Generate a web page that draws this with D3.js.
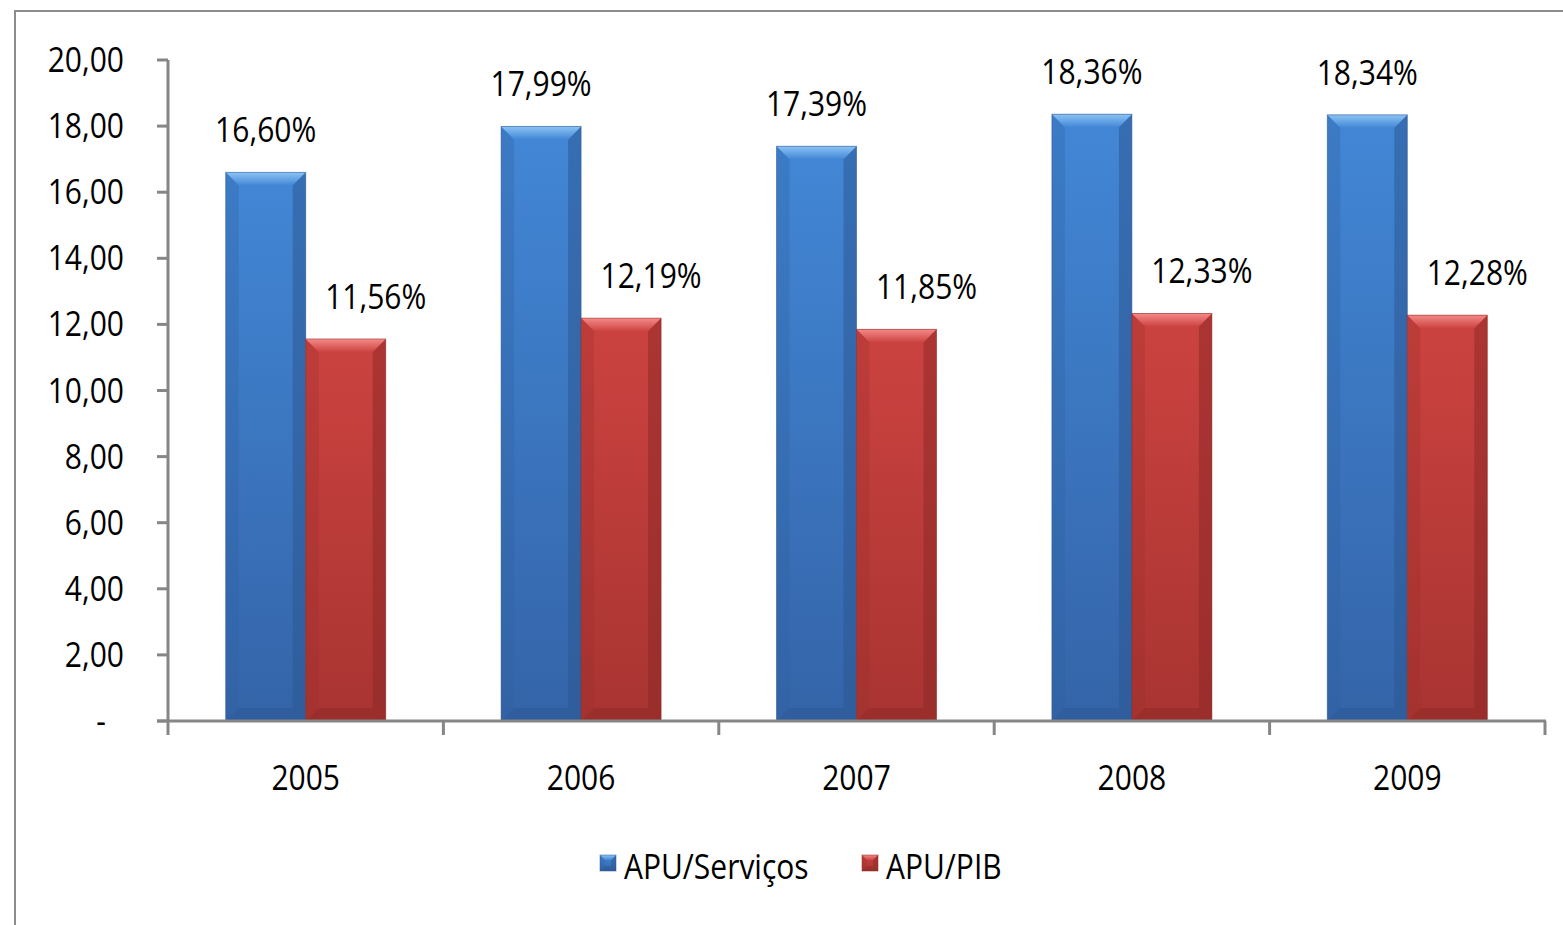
<!DOCTYPE html>
<meta charset="utf-8">
<title>APU/Serviços e APU/PIB</title>
<style>
    body {
        margin: 0;
        width: 1563px;
        height: 925px;
        overflow: hidden;
        background: #fff;
    }

    svg {
        display: block;
        font-family: "Open Sans", sans-serif;
    }

    text {
        fill: #000;
    }
</style>

<body>
    <svg width="1563" height="925"></svg>

    <script src="https://d3js.org/d3.v7.min.js"></script>
    <script>
        const years = ["2005", "2006", "2007", "2008", "2009"];
        const series = ["APU/Serviços", "APU/PIB"];
        const apuServicos = [16.60, 17.99, 17.39, 18.36, 18.34];
        const apuPib = [11.56, 12.19, 11.85, 12.33, 12.28];
        const yTicks = [0, 2, 4, 6, 8, 10, 12, 14, 16, 18, 20];

        const palette = {
            "APU/Serviços": { top: "#8cc3f4", mid: "#4287d6", low: "#3464a8", side: "#2f5f9e", bottom: "#2b5590" },
            "APU/PIB": { top: "#f48a88", mid: "#cc4341", low: "#a83431", side: "#9a2f2c", bottom: "#8a2826" }
        };

        const svg = d3.select("svg");
        const fmt = v => v.toFixed(2).replace(".", ",");
        // the original text looks tall and narrow, so stretch it a bit
        const stretch = (x, y) => `translate(${x},${y}) scale(1,1.18)`;

        const data = years.map((yr, i) => ({
            year: yr,
            values: [
                { key: series[0], value: apuServicos[i] },
                { key: series[1], value: apuPib[i] }
            ]
        }));

        const plotLeft = 168, plotRight = 1545, plotTop = 60, plotBottom = 721;

        const y = d3.scaleLinear().domain([0, 20]).range([plotBottom, plotTop]);
        const x0 = d3.scaleBand().domain(years).range([plotLeft, plotRight])
            .paddingInner(0.419).paddingOuter(0.2095);
        const x1 = d3.scaleBand().domain(series).range([0, x0.bandwidth()]);

        // outer frame
        svg.append("path")
            .attr("d", "M15,925 L15,11 L1563,11")
            .attr("fill", "none")
            .attr("stroke", "#8c8c8c")
            .attr("stroke-width", 2);

        const defs = svg.append("defs");
        series.forEach((s, i) => {
            const c = palette[s];
            const g = defs.append("linearGradient").attr("id", "body" + i)
                .attr("x1", 0).attr("y1", 0).attr("x2", 0).attr("y2", 1);
            g.append("stop").attr("offset", "0%").attr("stop-color", c.mid);
            g.append("stop").attr("offset", "100%").attr("stop-color", c.low);
            const t = defs.append("linearGradient").attr("id", "top" + i)
                .attr("x1", 0).attr("y1", 0).attr("x2", 0).attr("y2", 1);
            t.append("stop").attr("offset", "0%").attr("stop-color", c.top);
            t.append("stop").attr("offset", "100%").attr("stop-color", c.mid);
        });

        // bevelled bar
        function bevelBar(g, x, yTop, w, h, i, b) {
            const c = palette[series[i]];
            const x2 = x + w, yb = yTop + h;
            g.append("rect").attr("x", x).attr("y", yTop).attr("width", w).attr("height", h)
                .attr("fill", `url(#body${i})`);
            g.append("polygon")
                .attr("points", [[x, yb], [x + b, yb - b], [x2 - b, yb - b], [x2, yb]].join(" "))
                .attr("fill", c.bottom).attr("opacity", 0.45);
            g.append("polygon")
                .attr("points", [[x, yTop], [x + b, yTop + b], [x + b, yb - b], [x, yb]].join(" "))
                .attr("fill", c.side).attr("opacity", 0.3);
            g.append("polygon")
                .attr("points", [[x2, yTop], [x2 - b, yTop + b], [x2 - b, yb - b], [x2, yb]].join(" "))
                .attr("fill", c.bottom).attr("opacity", 0.5);
            g.append("polygon")
                .attr("points", [[x, yTop], [x2, yTop], [x2 - b, yTop + b], [x + b, yTop + b]].join(" "))
                .attr("fill", `url(#top${i})`);
            g.append("rect").attr("x", x).attr("y", yTop).attr("width", w).attr("height", h)
                .attr("fill", "none").attr("stroke", c.bottom).attr("stroke-opacity", 0.5).attr("stroke-width", 1);
        }

        const groups = svg.append("g").selectAll("g")
            .data(data).join("g")
            .attr("transform", d => `translate(${x0(d.year)},0)`);

        groups.each(function (d) {
            const g = d3.select(this);
            d.values.forEach((v, i) => {
                bevelBar(g, x1(v.key), y(v.value), x1.bandwidth(), y(0) - y(v.value), i, 13);
            });
        });

        // value labels
        groups.selectAll("text.val")
            .data(d => d.values)
            .join("text")
            .attr("class", "val")
            .attr("transform", (v, i) => stretch(x1(v.key) + x1.bandwidth() / 2 + (i === 1 ? 30 : 0), y(v.value) - 30))
            .attr("text-anchor", "middle")
            .attr("font-size", 30)
            .text(v => fmt(v.value) + "%");

        // y axis
        const yAxis = svg.append("g");
        yAxis.append("line")
            .attr("x1", plotLeft).attr("x2", plotLeft).attr("y1", y(20)).attr("y2", y(0))
            .attr("stroke", "#868686").attr("stroke-width", 3);
        yAxis.selectAll("line.tick").data(yTicks).join("line")
            .attr("class", "tick")
            .attr("x1", plotLeft - 11).attr("x2", plotLeft)
            .attr("y1", d => y(d)).attr("y2", d => y(d))
            .attr("stroke", "#868686").attr("stroke-width", 3);
        yAxis.selectAll("text").data(yTicks).join("text")
            .attr("transform", d => stretch(d === 0 ? 106 : 124, y(d) + 12))
            .attr("text-anchor", "end")
            .attr("font-size", 30)
            .text(d => d === 0 ? "-" : fmt(d));

        // x axis
        const xAxis = svg.append("g");
        xAxis.append("line")
            .attr("x1", plotLeft - 11).attr("x2", plotRight + 1).attr("y1", plotBottom).attr("y2", plotBottom)
            .attr("stroke", "#868686").attr("stroke-width", 3);
        const bounds = years.map(yr => x0(yr) - x0.step() * x0.paddingInner() / 2).concat([plotRight]);
        xAxis.selectAll("line.tick").data(bounds).join("line")
            .attr("class", "tick")
            .attr("x1", d => d).attr("x2", d => d)
            .attr("y1", plotBottom).attr("y2", plotBottom + 14)
            .attr("stroke", "#868686").attr("stroke-width", 3);
        xAxis.selectAll("text").data(years).join("text")
            .attr("transform", d => stretch(x0(d) + x0.bandwidth() / 2, 790))
            .attr("text-anchor", "middle")
            .attr("font-size", 30)
            .text(d => d);

        // legend
        const legendPos = [600, 862];
        const legend = svg.append("g").selectAll("g")
            .data(series).join("g")
            .attr("transform", (d, i) => `translate(${legendPos[i]},855)`);
        legend.each(function (d, i) {
            bevelBar(d3.select(this), 0, 0, 16, 16, i, 5);
        });
        legend.append("text")
            .attr("transform", stretch(24, 24))
            .attr("font-size", 30)
            .text(d => d);
    </script>
</body>

</html>
